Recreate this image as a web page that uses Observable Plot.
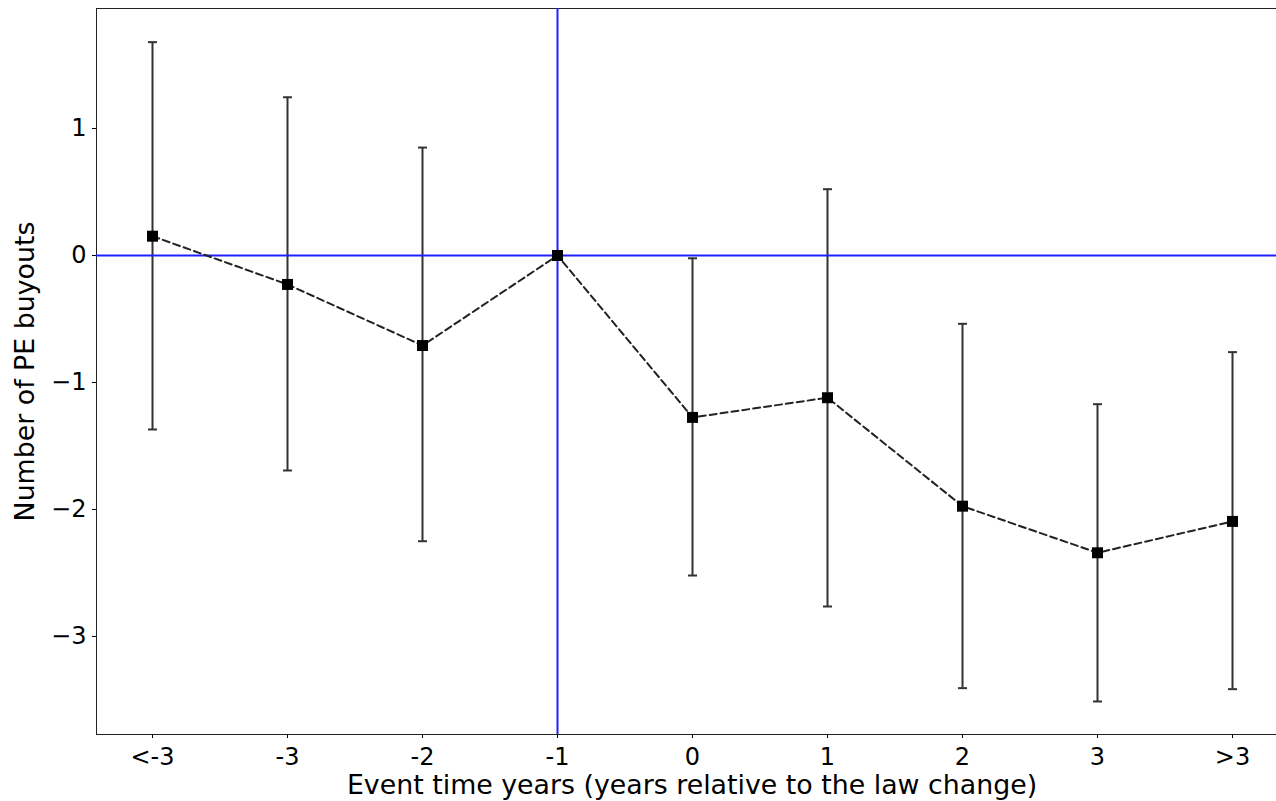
<!DOCTYPE html>
<html>
<head>
<meta charset="utf-8">
<script src="https://cdn.jsdelivr.net/npm/d3@7"></script>
<script src="https://cdn.jsdelivr.net/npm/@observablehq/plot@0.6"></script>
<style>
  html, body { margin: 0; padding: 0; background: #fff; overflow: hidden; }
  #chart svg { display: block; max-width: none !important; }
</style>
</head>
<body>
<div id="chart"></div>
<script>
const categories = ["<-3", "-3", "-2", "-1", "0", "1", "2", "3", ">3"];
const coef  = [0.152, -0.228, -0.709, 0.0, -1.275, -1.12, -1.974, -2.341, -2.094];
const lower = [-1.37, -1.693, -2.25, null, -2.52, -2.764, -3.407, -3.512, -3.415];
const upper = [1.68, 1.246, 0.85, null, -0.022, 0.522, -0.538, -1.171, -0.761];
const yTicks = [-3, -2, -1, 0, 1];

const data = categories.map((c, i) => ({cat: c, coef: coef[i], lo: lower[i], hi: upper[i]}));
const bars = data.filter(d => d.lo != null);

const capSymbol = {
  draw(context, size) {
    const w = Math.sqrt(size / Math.PI);
    context.moveTo(-w, 0);
    context.lineTo(w, 0);
  }
};

const fmt = d => d < 0 ? "\u2212" + Math.abs(d) : String(d);

const chart = Plot.plot({
  width: 1288,
  height: 801,
  marginLeft: 96,
  marginRight: 1,
  marginTop: 8,
  marginBottom: 67,
  style: {fontFamily: "DejaVu Sans", fontSize: "24px", color: "#000", background: "#fff", maxWidth: "none"},
  x: {type: "point", domain: categories, padding: 0.4, align: 0.5},
  y: {domain: [-3.772, 1.945]},
  marks: [
    Plot.frame({stroke: "#222", strokeWidth: 1}),
    Plot.ruleX(bars, {x: "cat", y1: "lo", y2: "hi", stroke: "#333", strokeWidth: 2}),
    Plot.dot(bars, {x: "cat", y: "lo", symbol: capSymbol, r: 4.5, stroke: "#333", strokeWidth: 2}),
    Plot.dot(bars, {x: "cat", y: "hi", symbol: capSymbol, r: 4.5, stroke: "#333", strokeWidth: 2}),
    Plot.ruleY([0], {stroke: "#2020ff", strokeWidth: 2}),
    Plot.ruleX(["-1"], {stroke: "#2020ff", strokeWidth: 2}),
    Plot.line(data, {x: "cat", y: "coef", stroke: "#222", strokeWidth: 2, strokeDasharray: "7,4"}),
    Plot.dot(data, {x: "cat", y: "coef", symbol: "square", r: 6.2, fill: "#000", stroke: "none"}),
    Plot.axisX({
      tickSize: 4, tickPadding: 9, tickFormat: d => d, fontSize: 24,
      label: null
    }),
    Plot.axisX({
      ticks: [], tickSize: 0, fontSize: 26.8,
      label: "Event time years (years relative to the law change)",
      labelAnchor: "center", labelArrow: "none", labelOffset: 59
    }),
    Plot.axisY({
      ticks: yTicks, tickSize: 4, tickPadding: 6, tickFormat: fmt, fontSize: 24,
      label: null
    }),
    Plot.axisY({
      ticks: [], tickSize: 0, fontSize: 26.8,
      label: "Number of PE buyouts",
      labelAnchor: "center", labelArrow: "none", labelOffset: 82
    })
  ]
});

document.getElementById("chart").appendChild(chart);
</script>
</body>
</html>
